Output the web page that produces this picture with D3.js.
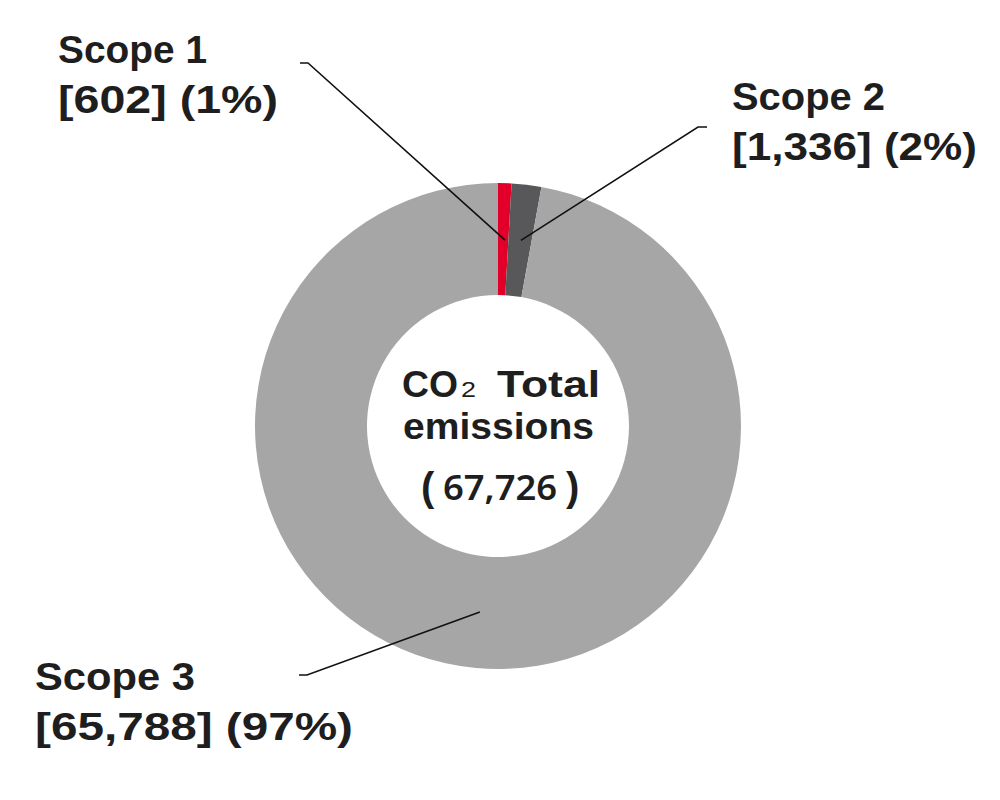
<!DOCTYPE html>
<html>
<head>
<meta charset="utf-8">
<script src="https://cdn.jsdelivr.net/npm/d3@7"></script>
<style>
html,body{margin:0;padding:0;background:#fff;}
svg{display:block;}
text{font-family:"Liberation Sans",Arial,sans-serif;fill:#1e1e1e;}
</style>
</head>
<body>
<svg id="chart" width="1000" height="800"></svg>
<script>
const categories = ["Scope 1", "Scope 2", "Scope 3"];
const values = [602, 1336, 65788];
const valueLabels = ["602", "1,336", "65,788"];
const percentLabels = ["1%", "2%", "97%"];
const colors = ["#e2002a", "#58585a", "#a6a6a6"];
const totalLabel = "67,726";

const svg = d3.select("#chart");
const cx = 498, cy = 426, rOuter = 243, rInner = 131;

const pie = d3.pie().sort(null).value(d => d)(values);
const arc = d3.arc().innerRadius(rInner).outerRadius(rOuter);

const g = svg.append("g").attr("transform", `translate(${cx},${cy})`);
g.selectAll("path").data(pie).enter().append("path")
  .attr("d", arc).attr("fill", (d, i) => colors[i]);

// label layout
const labelCfg = [
  {anchorR: 186, angle: null, elbow: [308, 63], tail: [300, 63], tx: 58, ty1: 63, ty2: 113, w1: 149, w2: 220},
  {anchorR: 187, angle: null, elbow: [698, 127], tail: [707, 127], tx: 732, ty1: 110, ty2: 160, w1: 153, w2: 245},
  {anchorR: 187, angle: Math.PI + 0.097, elbow: [307, 675], tail: [299, 675], tx: 35, ty1: 690, ty2: 740, w1: 160, w2: 318}
];

pie.forEach((d, i) => {
  const c = labelCfg[i];
  const a = c.angle !== null ? c.angle : (d.startAngle + d.endAngle) / 2 + (i === 0 ? 0.01 : 0.005);
  const ax = cx + c.anchorR * Math.sin(a);
  const ay = cy - c.anchorR * Math.cos(a);
  svg.append("polyline")
    .attr("points", [[ax, ay], c.elbow, c.tail].map(p => p.join(",")).join(" "))
    .attr("fill", "none").attr("stroke", "#111").attr("stroke-width", 1.6);
  svg.append("text").attr("x", c.tx).attr("y", c.ty1)
    .attr("font-size", 38).attr("font-weight", 700)
    .attr("textLength", c.w1).attr("lengthAdjust", "spacingAndGlyphs")
    .text(categories[i]);
  svg.append("text").attr("x", c.tx).attr("y", c.ty2)
    .attr("font-size", 38).attr("font-weight", 700)
    .attr("textLength", c.w2).attr("lengthAdjust", "spacingAndGlyphs")
    .text(`[${valueLabels[i]}] (${percentLabels[i]})`);
});

// center text (single text element, positioned tspans)
const ct = svg.append("text").attr("font-size", 37).attr("font-weight", 700);
ct.append("tspan").attr("x", 402).attr("y", 397)
  .attr("textLength", 56).attr("lengthAdjust", "spacingAndGlyphs").text("CO");
ct.append("tspan").attr("x", 461).attr("y", 397)
  .attr("font-size", 22).attr("font-weight", 400)
  .attr("textLength", 15).attr("lengthAdjust", "spacingAndGlyphs").text("2");
ct.append("tspan").attr("x", 497).attr("y", 397)
  .attr("textLength", 103).attr("lengthAdjust", "spacingAndGlyphs").text("Total");
ct.append("tspan").attr("x", 403).attr("y", 439)
  .attr("textLength", 191).attr("lengthAdjust", "spacingAndGlyphs").text("emissions");
ct.append("tspan").attr("x", 421).attr("y", 501)
  .attr("font-size", 40).text("(");
ct.append("tspan").attr("x", 443).attr("y", 500)
  .attr("font-size", 34).attr("font-weight", 600)
  .style("font-family", "'Noto Sans', 'Liberation Sans', sans-serif")
  .attr("textLength", 114).attr("lengthAdjust", "spacingAndGlyphs").text(totalLabel);
ct.append("tspan").attr("x", 566).attr("y", 501)
  .attr("font-size", 40).text(")");
</script>
</body>
</html>
